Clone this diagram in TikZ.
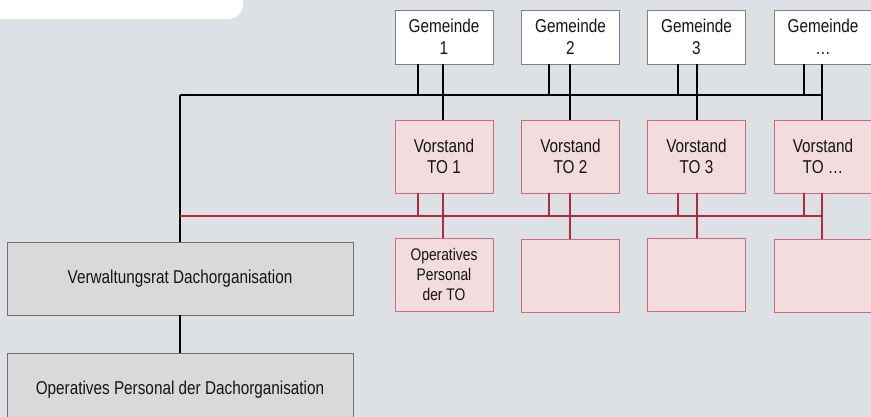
\documentclass[tikz,border=0pt]{standalone}
\usepackage{fontspec}
\setmainfont[FakeStretch=0.823]{Liberation Sans}
\definecolor{bgc}{HTML}{DDE1E6}
\definecolor{pinkfill}{HTML}{F2DCDD}
\definecolor{pinkborder}{HTML}{D06A78}
\definecolor{redline}{HTML}{B4283C}
\definecolor{grayfill}{HTML}{D9D9D9}
\definecolor{grayborder}{HTML}{707070}
\definecolor{gemborder}{HTML}{808080}
\definecolor{txt}{HTML}{141414}
\begin{document}
\begin{tikzpicture}[x=1pt,y=-1pt,
  boxbase/.style={inner sep=0pt, align=center, text=txt, line width=0.9pt,
    font=\fontsize{18.6}{21.5}\selectfont},
  gem/.style={boxbase, draw=gemborder, fill=white, minimum width=98, minimum height=54},
  vor/.style={boxbase, draw=pinkborder, fill=pinkfill, minimum width=98, minimum height=73},
  opto/.style={vor, font=\fontsize{16.8}{20}\selectfont},
  grybox/.style={boxbase, draw=grayborder, fill=grayfill, minimum width=346, minimum height=73},
  blk/.style={black, line width=1.2pt},
  redl/.style={redline, line width=1.5pt}]
\useasboundingbox (0,0) rectangle (871,417);
\clip (0,0) rectangle (871,417);
\fill[bgc] (0,0) rectangle (871,417);
\fill[white, rounded corners=15pt] (-20,-20) rectangle (243,19);

% Gemeinden
\node[gem] (g1) at (444,37) {Gemeinde\\1};
\node[gem] (g2) at (570.5,37) {Gemeinde\\2};
\node[gem] (g3) at (696.5,37) {Gemeinde\\3};
\node[gem] (g4) at (823,37) {Gemeinde\\\dots};

% Vorstand
\node[vor] (v1) at (444,156.5) {Vorstand\\TO 1};
\node[vor] (v2) at (570.5,156.5) {Vorstand\\TO 2};
\node[vor] (v3) at (696.5,156.5) {Vorstand\\TO 3};
\node[vor] (v4) at (823,156.5) {Vorstand\\TO \dots};

% Operatives Personal TO
\node[opto] (p1) at (444,274.5) {Operatives\\Personal\\der TO};
\node[opto] (p2) at (570.5,275.5) {};
\node[opto] (p3) at (696.5,274.5) {};
\node[opto] (p4) at (823,275.5) {};

% Dachorganisation
\node[grybox] (va) at (180,278.5) {Verwaltungsrat Dachorganisation};
\node[grybox] (op) at (180,389.5) {Operatives Personal der Dachorganisation};

% buses
\coordinate (bl) at (180,95);
\coordinate (br) at (822,95);
\coordinate (rl) at (180,216);
\coordinate (rr) at (822,216);
\draw[blk] (bl) -- (br);
\draw[blk] (bl) -- (va.north);
\draw[blk] (va.south) -- (op.north);
\draw[redl] (rl) -- (rr);

\foreach \i/\a/\b in {1/418/443, 2/549/570, 3/678/697, 4/804/822}{
  \coordinate (ja\i) at (\a,95);
  \coordinate (jb\i) at (\b,95);
  \coordinate (ka\i) at (\a,216);
  \coordinate (kb\i) at (\b,216);
  \draw[blk] (g\i.south -| ja\i) -- (ja\i);
  \draw[blk] (g\i.south -| jb\i) -- (v\i.north -| jb\i);
  \draw[redl] (v\i.south -| ka\i) -- (ka\i);
  \draw[redl] (v\i.south -| kb\i) -- (p\i.north -| kb\i);
}
\end{tikzpicture}
\end{document}
